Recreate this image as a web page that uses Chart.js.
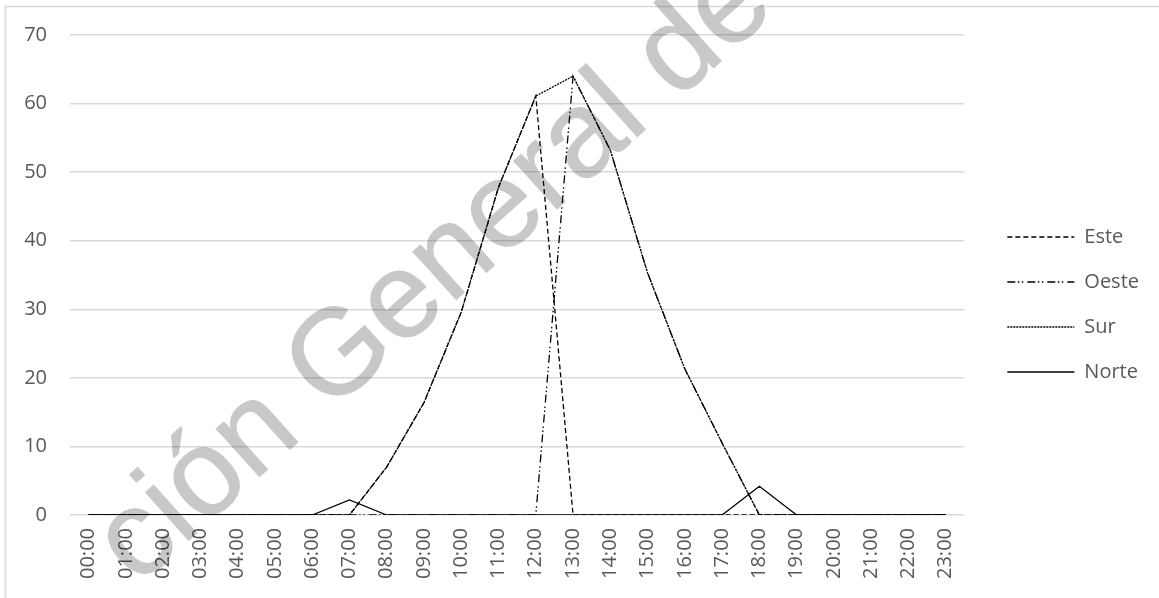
<!DOCTYPE html>
<html>
<head>
<meta charset="utf-8">
<script src="https://cdn.jsdelivr.net/npm/chart.js@4.4.1/dist/chart.umd.min.js"></script>
<style>
  html, body { margin: 0; padding: 0; background: #ffffff; }
  #wrap { width: 1159px; height: 598px; }
</style>
</head>
<body>
<div id="wrap"><canvas id="c" width="1159" height="598"></canvas></div>
<script>
// ---- data ----
const hours = ["00:00","01:00","02:00","03:00","04:00","05:00","06:00","07:00","08:00","09:00","10:00","11:00",
               "12:00","13:00","14:00","15:00","16:00","17:00","18:00","19:00","20:00","21:00","22:00","23:00"];
const este  = [0,0,0,0,0,0,0,0,7,16.4,29.6,47.8,61.1,0,0,0,0,0,0,0,0,0,0,0];
const oeste = [0,0,0,0,0,0,0,0,0,0,0,0,0,64,53.2,35.3,21.3,10.5,0,0,0,0,0,0];
const sur   = [0,0,0,0,0,0,0,0,7,16.4,29.6,47.8,61.1,64,53.2,35.3,21.3,10.5,0,0,0,0,0,0];
const norte = [0,0,0,0,0,0,0,2.2,0,0,0,0,0,0,0,0,0,0,4.2,0,0,0,0,0];
const seriesNames = ["Este","Oeste","Sur","Norte"];
const yTicks = [0,10,20,30,40,50,60,70];
const watermarkText = "ción General de E";

const textColor = "#595959";
const gridColor = "#d9d9d9";

const frame = {
  id: "frame",
  beforeDraw(chart) {
    const ctx = chart.ctx;
    ctx.save();
    ctx.fillStyle = "#ffffff";
    ctx.fillRect(0, 0, chart.width, chart.height);
    ctx.strokeStyle = gridColor;
    ctx.lineWidth = 1.5;
    ctx.beginPath();
    ctx.moveTo(5.5, chart.height);
    ctx.lineTo(5.5, 6.5);
    ctx.lineTo(chart.width, 6.5);
    ctx.stroke();
    ctx.restore();
  }
};

const watermark = {
  id: "watermark",
  afterDraw(chart) {
    const off = document.createElement("canvas");
    off.width = chart.width;
    off.height = chart.height;
    const g = off.getContext("2d");
    const fs = 122;
    g.font = fs + 'px "Liberation Sans"';
    const th = 42 * Math.PI / 180;
    const w0 = g.measureText("ción ").width;
    const wG = g.measureText("G").width;
    const a = w0 + wG / 2, b = 0.716 * fs / 2;
    const ux = Math.cos(th), uy = -Math.sin(th);
    const vx = -Math.sin(th), vy = -Math.cos(th);
    const tx = 335, ty = 350;
    const ox = tx - a * ux - b * vx;
    const oy = ty - a * uy - b * vy;
    g.translate(ox, oy);
    g.rotate(-th);
    g.fillStyle = "#000";
    g.strokeStyle = "#000";
    g.lineWidth = 1.2;
    g.lineJoin = "round";
    g.fillText(watermarkText, 0, 0);
    g.strokeText(watermarkText, 0, 0);
    const ctx = chart.ctx;
    ctx.save();
    ctx.globalAlpha = 0.21;
    ctx.drawImage(off, 0, 0);
    ctx.restore();
  }
};

const lineWidth = 1.3;
const dashes = {
  Este: [5, 3],
  Oeste: [8, 2.5, 1.5, 2.5, 1.5, 4],
  Sur: [2, 1],
  Norte: []
};
const values = { Este: este, Oeste: oeste, Sur: sur, Norte: norte };

new Chart(document.getElementById("c"), {
  type: "line",
  data: {
    labels: hours,
    datasets: seriesNames.map(n => ({
      label: n,
      data: values[n],
      borderColor: "#000000",
      backgroundColor: "#000000",
      borderWidth: lineWidth,
      borderDash: dashes[n],
      pointRadius: 0,
      pointHoverRadius: 0,
      tension: 0,
      fill: false
    }))
  },
  options: {
    responsive: false,
    animation: false,
    events: [],
    layout: { padding: { left: 0, right: 10, top: 29, bottom: 18 } },
    font: { family: "'Open Sans'" },
    plugins: {
      tooltip: { enabled: false },
      legend: {
        position: "right",
        align: "center",
        labels: {
          usePointStyle: true,
          pointStyle: "line",
          pointStyleWidth: 67,
          padding: 25,
          color: textColor,
          font: { family: "'Open Sans'", size: 20 },
          generateLabels(chart) {
            const items = Chart.defaults.plugins.legend.labels.generateLabels(chart);
            items.forEach(it => {
              const ds = chart.data.datasets[it.datasetIndex];
              it.lineDash = ds.borderDash;
              it.lineWidth = ds.borderWidth;
              it.strokeStyle = ds.borderColor;
              it.fillStyle = ds.borderColor;
              it.pointStyle = "line";
            });
            return items;
          }
        }
      }
    },
    scales: {
      x: {
        offset: true,
        grid: { display: false, drawTicks: false },
        border: { display: false },
        ticks: {
          color: textColor,
          font: { family: "'Open Sans'", size: 20 },
          minRotation: 90,
          maxRotation: 90,
          autoSkip: false,
          padding: 13
        },
        afterFit(s) { s.height = 65; }
      },
      topSpacer: {
        type: "category",
        position: "top",
        display: true,
        grid: { display: false, drawTicks: false },
        border: { display: false },
        ticks: { display: false },
        afterFit(s) { s.height = 6; }
      },
      y: {
        min: 0,
        max: 70,
        afterBuildTicks(s) { s.ticks = yTicks.map(v => ({ value: v })); },
        grid: { color: gridColor, lineWidth: 1.5, drawTicks: false },
        border: { display: false },
        ticks: {
          color: textColor,
          font: { family: "'Open Sans'", size: 20 },
          padding: 23
        },
        afterFit(s) { s.width = 70; }
      },
      spacer: {
        type: "linear",
        position: "right",
        display: true,
        grid: { display: false, drawTicks: false },
        border: { display: false },
        ticks: { display: false },
        afterFit(s) { s.width = 18; }
      }
    }
  },
  plugins: [frame, watermark]
});
</script>
</body>
</html>
